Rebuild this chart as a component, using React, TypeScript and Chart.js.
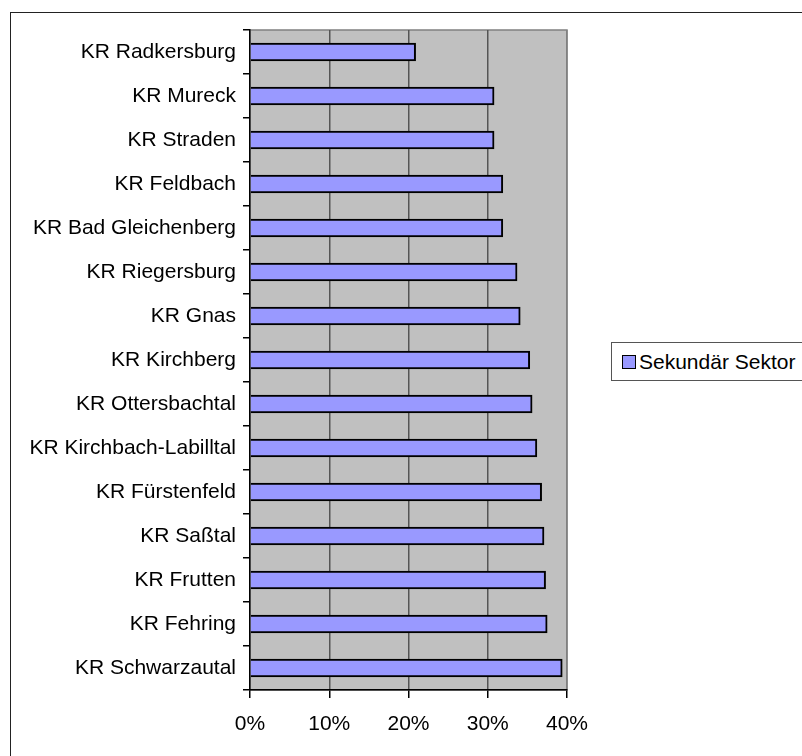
import React, { useEffect, useRef } from "react";
import { Chart, registerables } from "chart.js";

Chart.register(...registerables);

const categories: string[] = [
  "KR Radkersburg",
  "KR Mureck",
  "KR Straden",
  "KR Feldbach",
  "KR Bad Gleichenberg",
  "KR Riegersburg",
  "KR Gnas",
  "KR Kirchberg",
  "KR Ottersbachtal",
  "KR Kirchbach-Labilltal",
  "KR Fürstenfeld",
  "KR Saßtal",
  "KR Frutten",
  "KR Fehring",
  "KR Schwarzautal",
];

const sekundaerSektor: number[] = [
  0.209, 0.308, 0.308, 0.319, 0.319, 0.337, 0.341, 0.353, 0.356, 0.362,
  0.368, 0.371, 0.373, 0.375, 0.394,
];

const seriesName = "Sekundär Sektor";
const xTicks: number[] = [0, 0.1, 0.2, 0.3, 0.4];

const FONT = "'Liberation Sans', Arial, Helvetica, sans-serif";

const plotBg = {
  id: "plotBg",
  beforeDraw(chart: any) {
    const { ctx, chartArea } = chart;
    if (!chartArea) return;
    ctx.save();
    ctx.fillStyle = "#C0C0C0";
    ctx.fillRect(
      chartArea.left,
      chartArea.top,
      chartArea.right - chartArea.left,
      chartArea.bottom - chartArea.top
    );
    ctx.strokeStyle = "#808080";
    ctx.lineWidth = 1.5;
    ctx.strokeRect(
      chartArea.left,
      chartArea.top,
      chartArea.right - chartArea.left,
      chartArea.bottom - chartArea.top
    );
    ctx.restore();
  },
};

export default function App() {
  const ref = useRef<HTMLCanvasElement | null>(null);

  useEffect(() => {
    if (!ref.current) return;
    Chart.defaults.font.family = FONT;
    Chart.defaults.color = "#000";
    const chart = new Chart(ref.current, {
      type: "bar",
      data: {
        labels: categories,
        datasets: [
          {
            label: seriesName,
            data: sekundaerSektor,
            backgroundColor: "#9999FF",
            borderColor: "#000000",
            borderWidth: 2,
            barThickness: 18,
          },
        ],
      },
      options: {
        indexAxis: "y",
        responsive: false,
        animation: false,
        devicePixelRatio: 1,
        layout: { padding: { top: 30, right: 235, left: 0, bottom: 0 } },
        plugins: {
          legend: { display: false },
          tooltip: { enabled: false },
          title: { display: false },
        },
        scales: {
          x: {
            type: "linear",
            min: 0,
            max: 0.4,
            afterFit: (scale: any) => {
              scale.height = 66;
            },
            afterBuildTicks: (scale: any) => {
              scale.ticks = xTicks.map((v) => ({ value: v }));
            },
            border: { display: true, color: "#000", width: 1.5 },
            grid: {
              drawOnChartArea: true,
              drawTicks: true,
              tickLength: 8,
              tickColor: "#000",
              lineWidth: 1.5,
              color: (ctx: any) => {
                const v = ctx.tick ? ctx.tick.value : 0;
                if (v === 0) return "rgba(0,0,0,0)";
                if (Math.abs(v - 0.4) < 1e-9) return "#808080";
                return "#555555";
              },
            },
            ticks: {
              padding: 14,
              font: { size: 21, family: FONT },
              color: "#000",
              callback: (v: any) => Math.round(Number(v) * 100) + "%",
            },
          },
          y: {
            type: "category",
            afterFit: (scale: any) => {
              scale.width = 250;
            },
            border: { display: true, color: "#000", width: 1.5 },
            grid: {
              offset: true,
              drawOnChartArea: false,
              drawTicks: true,
              tickLength: 7,
              tickColor: "#000",
              lineWidth: 1.5,
            },
            ticks: {
              padding: 7,
              font: { size: 21, family: FONT },
              color: "#000",
            },
          },
        },
      },
      plugins: [plotBg],
    });
    return () => chart.destroy();
  }, []);

  return (
    <div
      style={{
        position: "fixed",
        left: 0,
        top: 0,
        width: 802,
        height: 756,
        overflow: "hidden",
        background: "#fff",
      }}
    >
      <div
        style={{
          position: "absolute",
          left: 10,
          top: 12,
          width: 900,
          height: 900,
          border: "1.5px solid #222",
          boxSizing: "border-box",
        }}
      />
      <canvas
        ref={ref}
        width={802}
        height={756}
        style={{ position: "absolute", left: 0, top: 0 }}
      />
      <div
        style={{
          position: "absolute",
          left: 611,
          top: 342,
          width: 400,
          height: 39,
          border: "1px solid #555",
          boxSizing: "border-box",
          background: "#fff",
          display: "flex",
          alignItems: "center",
          fontFamily: FONT,
          fontSize: 21,
          color: "#000",
          whiteSpace: "nowrap",
        }}
      >
        <span
          style={{
            display: "inline-block",
            width: 14,
            height: 14,
            marginLeft: 10,
            marginRight: 3,
            background: "#9999FF",
            border: "1.5px solid #000",
            boxSizing: "border-box",
          }}
        />
        <span>{seriesName}</span>
      </div>
    </div>
  );
}
